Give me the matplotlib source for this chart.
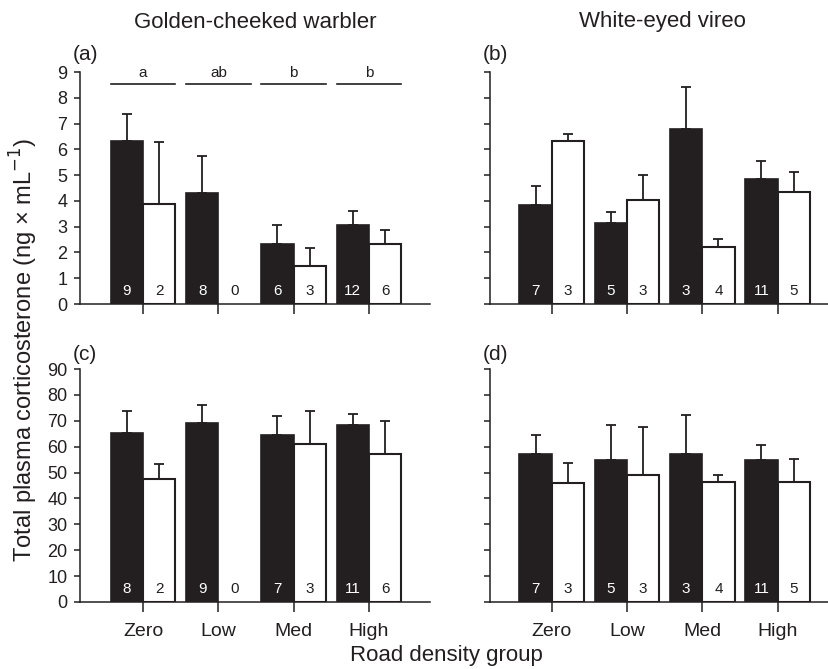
import matplotlib
matplotlib.use("Agg")
import matplotlib.pyplot as plt
import numpy as np

plt.rcParams["font.family"] = ["Liberation Sans", "DejaVu Sans"]

INK = "#231f20"

# カテゴリ
GROUPS = ["Zero", "Low", "Med", "High"]

# (a) Golden-cheeked warbler, baseline
A_BLACK = [6.33, 4.29, 2.33, 3.07]
A_BLACK_SE = [1.03, 1.46, 0.72, 0.55]
A_WHITE = [3.89, 0.0, 1.49, 2.31]
A_WHITE_SE = [2.41, 0.0, 0.69, 0.57]
A_N_BLACK = [9, 8, 6, 12]
A_N_WHITE = [2, 0, 3, 6]
A_LETTERS = ["a", "ab", "b", "b"]

# (b) White-eyed vireo, baseline
B_BLACK = [3.85, 3.15, 6.80, 4.84]
B_BLACK_SE = [0.72, 0.43, 1.60, 0.72]
B_WHITE = [6.33, 4.02, 2.20, 4.33]
B_WHITE_SE = [0.25, 0.99, 0.31, 0.80]
B_N_BLACK = [7, 5, 3, 11]
B_N_WHITE = [3, 3, 4, 5]

# (c) Golden-cheeked warbler, total
C_BLACK = [65.2, 69.1, 64.6, 68.2]
C_BLACK_SE = [8.7, 7.1, 7.3, 4.3]
C_WHITE = [47.6, 0.0, 61.1, 57.0]
C_WHITE_SE = [5.6, 0.0, 12.8, 13.1]
C_N_BLACK = [8, 9, 7, 11]
C_N_WHITE = [2, 0, 3, 6]

# (d) White-eyed vireo, total
D_BLACK = [57.2, 54.8, 57.2, 54.8]
D_BLACK_SE = [7.4, 13.5, 14.9, 6.0]
D_WHITE = [45.8, 48.9, 46.5, 46.5]
D_WHITE_SE = [8.0, 18.8, 2.6, 8.6]
D_N_BLACK = [7, 5, 3, 11]
D_N_WHITE = [3, 3, 4, 5]

W = 0.43
FIG_W, FIG_H = 829, 669


def px_axes(fig, left, top, right, bottom):
    return fig.add_axes([left / FIG_W, 1 - bottom / FIG_H,
                         (right - left) / FIG_W, (bottom - top) / FIG_H])


def draw_panel(ax, black, black_se, white, white_se, n_black, n_white,
               ymax, xlim, show_xlabels):
    x = np.arange(len(GROUPS))
    xb = x - W / 2
    xw = x + W / 2
    ax.bar(xb, black, W, color=INK, edgecolor=INK, linewidth=1.2, zorder=2)
    ax.errorbar(xb, black, yerr=[np.zeros(4), black_se], fmt="none",
                ecolor=INK, elinewidth=1.3, capsize=3.5, capthick=1.3, zorder=1)
    # n=0 の群は棒を描かない
    keep = [i for i in range(len(white)) if n_white[i] > 0]
    ax.bar(xw[keep], np.array(white)[keep], W, color="white", edgecolor=INK,
           linewidth=1.5, zorder=2)
    ax.errorbar(xw[keep], np.array(white)[keep],
                yerr=[np.zeros(len(keep)), np.array(white_se)[keep]],
                fmt="none", ecolor=INK, elinewidth=1.3, capsize=3.5,
                capthick=1.3, zorder=1)

    ny = ymax * 0.055
    for i in range(len(GROUPS)):
        ax.text(xb[i], ny, str(n_black[i]), color="white", ha="center",
                va="center", fontsize=11, zorder=3)
        ax.text(xw[i], ny, str(n_white[i]), color=INK, ha="center",
                va="center", fontsize=11, zorder=3)

    ax.set_xlim(*xlim)
    ax.set_ylim(0, ymax)
    ax.set_yticks(np.linspace(0, ymax, 10))
    ax.set_xticks(x)
    if show_xlabels:
        ax.set_xticklabels(GROUPS)
    else:
        ax.set_xticklabels([])
    ax.spines["top"].set_visible(False)
    ax.spines["right"].set_visible(False)
    for s in ("left", "bottom"):
        ax.spines[s].set_color(INK)
        ax.spines[s].set_linewidth(1.1)
    ax.tick_params(axis="y", length=4, width=1.1, color=INK, labelsize=13,
                   labelcolor=INK, pad=5)
    ax.tick_params(axis="x", length=7, width=1.1, color=INK, labelsize=14,
                   labelcolor=INK, pad=8)


fig = plt.figure(figsize=(FIG_W / 100, FIG_H / 100), dpi=100)

ax_a = px_axes(fig, 80, 72, 430, 304)
ax_b = px_axes(fig, 490, 72, 828, 304)
ax_c = px_axes(fig, 80, 369, 430, 602)
ax_d = px_axes(fig, 490, 369, 828, 602)

xlim_a = (-0.837, 3.81)
xlim_b = (-0.82, 3.67)

draw_panel(ax_a, A_BLACK, A_BLACK_SE, A_WHITE, A_WHITE_SE, A_N_BLACK,
           A_N_WHITE, 9, xlim_a, False)
draw_panel(ax_b, B_BLACK, B_BLACK_SE, B_WHITE, B_WHITE_SE, B_N_BLACK,
           B_N_WHITE, 9, xlim_b, False)
draw_panel(ax_c, C_BLACK, C_BLACK_SE, C_WHITE, C_WHITE_SE, C_N_BLACK,
           C_N_WHITE, 90, xlim_a, True)
draw_panel(ax_d, D_BLACK, D_BLACK_SE, D_WHITE, D_WHITE_SE, D_N_BLACK,
           D_N_WHITE, 90, xlim_b, True)

ax_b.set_yticklabels([])
ax_d.set_yticklabels([])

# 有意差の記号
for i, letter in enumerate(A_LETTERS):
    ax_a.plot([i - W, i + W], [8.53, 8.53], color=INK, lw=1.2, clip_on=False)
    ax_a.text(i, 8.68, letter, ha="center", va="bottom", fontsize=11, color=INK)

# パネル記号
for lx, ly, lab in [(73, 54, "(a)"), (483, 54, "(b)"),
                    (73, 354, "(c)"), (483, 354, "(d)")]:
    fig.text(lx / FIG_W, 1 - ly / FIG_H, lab, ha="left", va="center",
             fontsize=15, color=INK)

fig.text(255 / FIG_W, 1 - 22 / FIG_H, "Golden-cheeked warbler", ha="center",
         va="center", fontsize=16, color=INK)
fig.text(662 / FIG_W, 1 - 22 / FIG_H, "White-eyed vireo", ha="center",
         va="center", fontsize=16, color=INK)
fig.text(24 / FIG_W, 1 - 350 / FIG_H,
         "Total plasma corticosterone (ng \u00d7 mL$^{-1}$)", rotation=90,
         ha="center", va="center", fontsize=17, color=INK)
fig.text(446 / FIG_W, 1 - 656 / FIG_H, "Road density group", ha="center",
         va="center", fontsize=16, color=INK)

fig.savefig("out.png", dpi=100)
